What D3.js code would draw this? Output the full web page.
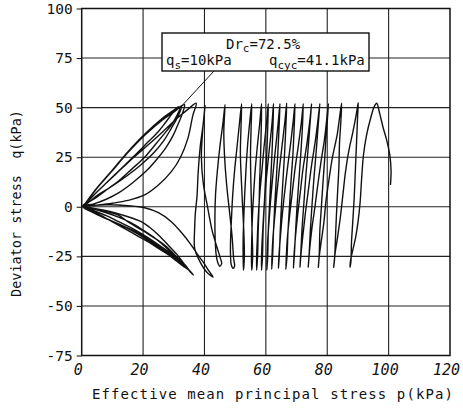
<!DOCTYPE html>
<html>
<head>
<meta charset="utf-8">
<script src="https://cdn.jsdelivr.net/npm/d3@7"></script>
<style>
  html, body { margin: 0; padding: 0; background: #fff; }
  svg { display: block; }
  text { font-family: "DejaVu Sans Mono", monospace; fill: #111; }
</style>
</head>
<body>
<svg id="chart"></svg>
<script>
const X_TICKS = [0, 20, 40, 60, 80, 100, 120];
const Y_TICKS = [100, 75, 50, 25, 0, -25, -50, -75];

// right part: cycles starting at p = 100 kPa, moving left as pore pressure builds
const rightLoops = [
  [100.6, 11], [100.8, 18], [100.4, 26], [99.3, 34], [98.2, 40], [97.1, 47], [96.1, 52.2],
  [95.3, 50.5], [94.2, 45], [92.8, 36], [91.8, 26], [91.2, 14], [90.7, 2], [90.0, -8], [89.3, -15], [88.3, -22], [87.6, -27], [87.4, -30.5],
  [87.7, -28], [87.9, -18], [88.3, -8], [88.8, 5], [89.1, 16], [89.4, 27], [89.7, 38], [89.9, 46], [90.1, 52.5],
  [89.5, 47], [88.4, 38], [87.0, 28], [85.9, 17], [85.1, 6], [84.3, -5], [83.4, -15], [82.6, -23], [82.1, -30.5],
  [82.4, -26], [82.7, -15], [83.0, -4], [83.4, 8], [83.8, 20], [84.0, 32], [84.4, 42], [84.7, 52.2],
  [84.1, 46], [83.2, 36], [81.7, 25], [80.6, 14], [79.6, 3], [78.9, -8], [78.0, -18], [77.4, -25], [77.1, -30.5],
  [77.4, -24], [77.6, -12], [78.1, 0], [78.6, 12], [79.2, 25], [79.7, 37], [80.1, 45], [80.4, 52],
  [79.9, 45], [79.1, 34], [78.0, 23], [77.0, 12], [76.0, 0], [75.0, -11], [74.3, -21], [73.8, -30.5],
  [74.1, -24], [74.5, -12], [75.0, 0], [75.6, 13], [76.3, 26], [76.9, 38], [77.3, 46], [77.6, 52],
  [77.0, 44], [76.1, 33], [74.9, 21], [73.9, 9], [72.9, -3], [72.1, -14], [71.5, -23], [71.1, -30.5],
  [71.4, -23], [71.8, -11], [72.4, 2], [73.0, 15], [73.7, 28], [74.3, 40], [74.9, 52],
  [74.3, 43], [73.3, 31], [72.1, 19], [71.2, 7], [70.3, -5], [69.6, -16], [69.2, -24], [69.0, -31],
  [69.3, -24], [69.7, -12], [70.2, 1], [70.8, 14], [71.4, 27], [71.9, 40], [72.2, 52],
  [71.6, 43], [70.6, 31], [69.5, 19], [68.6, 7], [67.7, -5], [67.0, -16], [66.7, -24], [66.5, -31.5],
  [66.9, -25], [67.2, -13], [67.7, 0], [68.2, 13], [68.8, 26], [69.2, 39], [69.5, 52],
  [68.9, 43], [68.0, 31], [67.0, 19], [66.1, 7], [65.3, -5], [64.7, -16], [64.3, -24], [64.1, -31],
  [64.4, -24], [64.7, -12], [65.1, 1], [65.6, 14], [66.1, 27], [66.5, 40], [66.8, 52.3],
  [66.2, 43], [65.3, 31], [64.4, 19], [63.6, 7], [62.9, -5], [62.3, -16], [62.0, -25], [61.9, -31.5],
  [62.2, -25], [62.5, -12], [62.9, 1], [63.4, 14], [63.9, 27], [64.3, 40], [64.6, 52],
  [64.0, 42], [63.2, 30], [62.4, 18], [61.7, 6], [61.1, -6], [60.6, -17], [60.4, -25], [60.3, -32],
  [60.6, -25], [60.8, -12], [61.2, 1], [61.6, 14], [62.0, 27], [62.3, 40], [62.5, 52],
  [62.0, 42], [61.2, 30], [60.4, 18], [59.7, 6], [59.2, -6], [58.8, -17], [58.6, -25], [58.6, -32],
  [58.9, -25], [59.1, -12], [59.5, 1], [59.9, 14], [60.3, 27], [60.6, 40], [60.8, 52],
  [60.2, 42], [59.4, 30], [58.7, 18], [58.0, 6], [57.5, -6], [57.2, -17], [57.0, -25], [57.0, -32],
  [57.3, -25], [57.5, -12], [57.8, 1], [58.0, 14], [58.3, 27], [58.5, 40], [58.6, 52],
  [58.0, 42], [57.2, 30], [56.5, 18], [56.0, 6], [55.6, -6], [55.4, -17], [55.3, -25], [55.4, -32],
  [55.7, -25], [55.5, -12], [55.3, 1], [55.1, 14], [55.0, 27], [55.2, 40], [55.4, 52],
  [54.7, 42], [54.0, 30], [53.5, 18], [53.1, 6], [52.8, -6], [52.6, -17], [52.6, -25], [52.7, -32],
  [53.0, -25], [52.8, -12], [52.4, 1], [52.0, 14], [51.7, 27], [51.9, 40], [52.1, 52],
  [51.4, 42], [50.6, 30], [49.8, 18], [49.2, 6], [48.8, -6], [48.5, -17], [48.5, -25], [48.7, -29], [49.3, -31], [49.8, -30],
  [49.5, -26], [49.0, -15], [48.2, -3], [47.3, 10], [46.6, 24], [46.3, 38], [46.7, 51.5],
  [46.0, 42], [45.0, 30], [44.2, 18], [43.6, 6], [43.4, -6], [43.5, -17], [43.8, -24], [44.3, -28], [45.0, -30], [45.6, -28.5],
  [45.2, -26], [44.0, -20], [42.5, -12], [41.0, 0], [39.6, 12], [39.0, 25], [39.4, 38], [40.2, 51]
];

// last big drop into extension, then back to the origin
const transition = [
  [40.2, 51], [39.6, 42], [38.6, 30], [37.9, 16], [37.6, 6], [37.0, -4], [36.8, -11], [36.8, -21],
  [38.0, -26], [40.5, -32.5], [42.8, -35.5],
  [41.5, -32.5], [39.5, -27.7], [37.5, -23.5], [35.7, -19.3], [32.5, -13], [29.2, -7.5], [25, -3],
  [20.5, -0.5], [15, 0.5], [9, 1], [4, 0.8], [0.5, 0.2]
];

// butterfly loops through the origin
const cycle1 = [
  [0.5, 0.2], [4, 6], [8, 12], [12.5, 18.5], [17, 25], [21.5, 31], [26.5, 38], [31, 44.5], [34.5, 49], [37.3, 52.2],
  [36.2, 46], [34.6, 34.5], [32.2, 25], [29.2, 17.7], [25, 11], [20.5, 6], [15, 3.2], [10, 1.8], [5, 0.8], [0.8, 0.1],
  [5, -3.6], [9.5, -7], [15.1, -10.8], [20.5, -15], [25.5, -19.8], [30, -25], [33.5, -29.5], [36.4, -34.4],
  [34, -30.5], [31.4, -26], [27, -19.3], [20.5, -12.6], [15.5, -8], [11.8, -4.1], [6, -1.5], [0.6, 0]
];
const cycle2 = [
  [0.6, 0], [4.5, 8.5], [9.6, 17.7], [15, 27.5], [20.5, 36.2], [26.5, 44], [31, 49], [33.5, 51.5],
  [32.8, 47], [31.5, 42], [29.8, 36], [27.5, 30], [24.5, 24], [21, 18], [16.5, 12], [12, 7], [8, 3.8], [4, 1.5], [0.5, 0.2],
  [4.5, -3.3], [9.8, -7.2], [15.1, -10.8], [21.5, -16.5], [28.1, -23.5], [31.5, -27.5], [35, -32],
  [33, -28], [31, -24], [28, -19], [25, -14.2], [22, -10.2], [19.4, -7.5], [14, -4.5], [9.2, -2.4], [4, -0.8], [0.4, 0]
];
const cycle3 = [
  [0.4, 0], [4.6, 8.7], [9.8, 17.9], [15.2, 27.6], [20.7, 36.3], [26.6, 44.2], [30.5, 48.5], [32.5, 50.5],
  [31.5, 46], [30.5, 43], [29.2, 39.6], [26.8, 33.5], [23.8, 27.8], [19.5, 21.5], [15.1, 16], [10, 10.5], [5.3, 6], [2, 2], [0.3, 0.2],
  [4.6, -3.5], [9.9, -7.3], [15.3, -11], [21.6, -16.7], [28, -23.3], [31.4, -27.3], [34, -31],
  [32.2, -27.8], [30, -24.5], [27.2, -20.2], [24, -16], [20, -11.8], [16, -8], [12, -5.2], [8, -3], [4, -1.2], [0.5, 0]
];
const cycle4 = [
  [0.5, 0], [4.4, 8.3], [9.5, 17.4], [14.9, 27.2], [20.4, 35.9], [26.3, 43.8], [30.2, 48], [32, 50],
  [31, 46], [29.3, 41.5], [27, 37], [23.8, 31], [20.5, 25], [16.3, 19], [12, 13], [8.5, 9], [5, 5], [2, 2], [0.4, 0.2],
  [4.4, -3.4], [9.7, -7.1], [15, -10.9], [21.4, -16.6], [27.9, -23.4], [31, -27], [33.5, -30.5],
  [31.8, -27.8], [30, -25], [27.2, -21.5], [24, -18], [20, -14], [16, -10.5], [12, -7.5], [8, -4.5], [4, -2], [0.4, 0]
];
const cycle5 = [
  [0.4, 0], [4.5, 8.6], [9.6, 17.8], [15, 27.7], [20.4, 36.5], [26.2, 44.5], [29.8, 48.5], [31.5, 50.5],
  [29.5, 47], [27.3, 42.5], [25, 38], [21.5, 32.5], [18, 27], [14, 21], [10, 15], [7, 10.5], [4, 6], [1.8, 2.5], [0.3, 0.3],
  [4.3, -3.3], [9.5, -7.1], [14.8, -10.7], [21.2, -16.4], [27.7, -23.2], [30.8, -26.8], [33, -30],
  [31, -27.5], [29, -25], [25.5, -21.5], [22, -18], [18, -14.5], [14, -11], [10.5, -8], [7, -5], [3.5, -2.2], [0.5, 0]
];
const finalLeg = [
  [0.5, 0], [4.6, 8.6], [9.7, 17.8], [15.1, 27.6], [20.6, 36.3], [26.5, 44.2], [30.8, 49.2], [32.8, 51.2]
];

const stressPath = [].concat(rightLoops, transition, cycle1, cycle2, cycle3, cycle4, cycle5, finalLeg);
const leaderTarget = finalLeg[finalLeg.length - 1];

function renderChart() {
  const width = 463, height = 408;
  const svg = d3.select("#chart").attr("width", width).attr("height", height);

  const left = 81.7, right = 450, top = 8.5, bottom = 355.5;

  const x = d3.scaleLinear().domain([0, 120]).range([left, right]);
  const y = d3.scaleLinear().domain([-75, 100]).range([bottom, top]);

  // grid
  svg.append("g")
    .selectAll("line")
    .data(X_TICKS.slice(1, -1))
    .enter().append("line")
    .attr("x1", d => x(d)).attr("x2", d => x(d))
    .attr("y1", top).attr("y2", bottom)
    .attr("stroke", "#222").attr("stroke-width", 1.1);

  svg.append("g")
    .selectAll("line")
    .data(Y_TICKS.slice(1, -1))
    .enter().append("line")
    .attr("x1", left).attr("x2", right)
    .attr("y1", d => y(d)).attr("y2", d => y(d))
    .attr("stroke", "#222").attr("stroke-width", 1.1);

  // frame
  svg.append("rect")
    .attr("x", left).attr("y", top)
    .attr("width", right - left).attr("height", bottom - top)
    .attr("fill", "none").attr("stroke", "#111").attr("stroke-width", 1.5);

  // axes
  const yAxis = svg.append("g")
    .attr("transform", `translate(${left},0)`)
    .call(d3.axisLeft(y).tickValues(Y_TICKS).tickSize(5).tickPadding(4)
      .tickFormat(d => d < 0 ? "-" + Math.abs(d) : d));
  yAxis.select(".domain").remove();
  yAxis.selectAll("line").attr("stroke", "#222").attr("stroke-width", 1.1);
  yAxis.selectAll("text").attr("font-size", 14.5).attr("font-family", "DejaVu Sans Mono").attr("fill", "#111");

  const xAxis = svg.append("g")
    .attr("transform", `translate(0,${bottom})`)
    .call(d3.axisBottom(x).tickValues(X_TICKS).tickSize(0).tickPadding(9));
  xAxis.select(".domain").remove();
  xAxis.selectAll("text")
    .attr("dx", -4)
    .attr("font-size", 15).attr("font-style", "italic")
    .attr("font-family", "DejaVu Sans Mono").attr("fill", "#111");

  // axis titles
  svg.append("text")
    .attr("x", 273).attr("y", 399)
    .attr("text-anchor", "middle")
    .attr("font-size", 14)
    .attr("letter-spacing", 1.1)
    .text("Effective mean principal stress p(kPa)");

  svg.append("text")
    .attr("transform", "translate(20.5,203.5) rotate(-90)")
    .attr("text-anchor", "middle")
    .attr("font-size", 13.5)
    .attr("xml:space", "preserve")
    .style("white-space", "pre")
    .text("Deviator stress  q(kPa)");

  // stress path
  const line = d3.line()
    .x(d => x(d[0]))
    .y(d => y(d[1]))
    .curve(d3.curveCatmullRom.alpha(0.5));

  svg.append("path")
    .datum(stressPath)
    .attr("fill", "none")
    .attr("stroke", "#111")
    .attr("stroke-width", 1.4)
    .attr("stroke-linejoin", "round")
    .attr("d", line);

  // annotation box
  const box = { x0: 162, y0: 33, x1: 369, y1: 71 };

  svg.append("line")
    .attr("x1", 214).attr("y1", box.y1)
    .attr("x2", x(leaderTarget[0])).attr("y2", y(leaderTarget[1]))
    .attr("stroke", "#111").attr("stroke-width", 1);

  svg.append("rect")
    .attr("x", box.x0).attr("y", box.y0)
    .attr("width", box.x1 - box.x0).attr("height", box.y1 - box.y0)
    .attr("fill", "#fff").attr("stroke", "#111").attr("stroke-width", 1.4);

  const t1 = svg.append("text").attr("x", 226).attr("y", 49).attr("font-size", 14);
  t1.append("tspan").text("Dr");
  t1.append("tspan").attr("font-size", 11).attr("dy", 3).text("c");
  t1.append("tspan").attr("dy", -3).text("=72.5%");

  const t2 = svg.append("text").attr("y", 65).attr("font-size", 14);
  t2.append("tspan").attr("x", 166).text("q");
  t2.append("tspan").attr("font-size", 11).attr("dy", 4).text("s");
  t2.append("tspan").attr("dy", -4).text("=10kPa");
  t2.append("tspan").attr("x", 269).text("q");
  t2.append("tspan").attr("font-size", 11).attr("dy", 4).text("cyc");
  t2.append("tspan").attr("dy", -4).text("=41.1kPa");
}

renderChart();
</script>
</body>
</html>
